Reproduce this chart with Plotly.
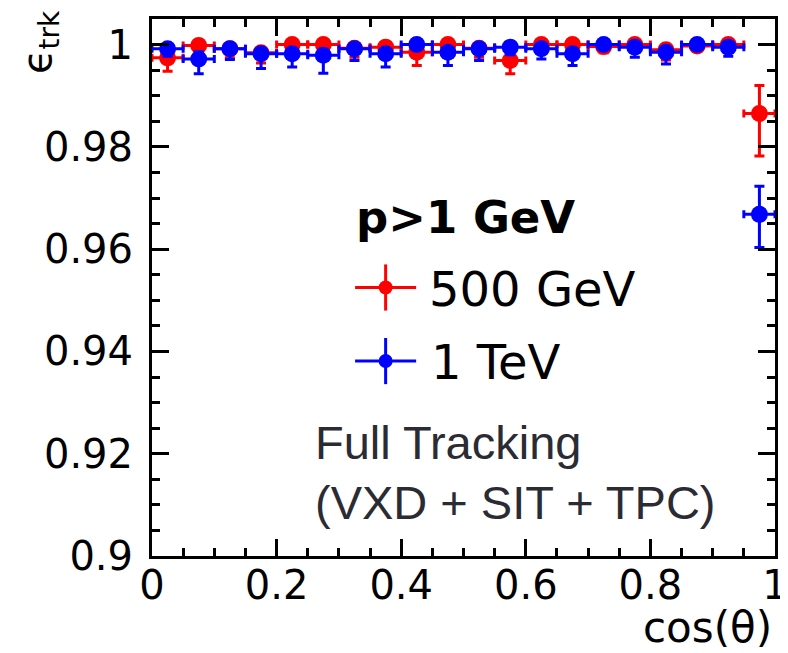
import plotly.graph_objects as go

# ---- data ----
cos_theta = [0.025, 0.075, 0.125, 0.175, 0.225, 0.275, 0.325, 0.375, 0.425, 0.475,
             0.525, 0.575, 0.625, 0.675, 0.725, 0.775, 0.825, 0.875, 0.925, 0.975]
bin_half_width = 0.025

eff_500 = [0.9974, 0.9998, 0.9992, 0.9984, 1.0000, 1.0000, 0.9993, 0.9995, 0.9985, 1.0000,
           0.9993, 0.9969, 1.0000, 1.0000, 0.9996, 1.0000, 0.9990, 0.9997, 1.0000, 0.9865]
err_500_lo = [0.0026, 0.0012, 0.0018, 0.0020, 0.0005, 0.0005, 0.0018, 0.0016, 0.0026, 0.0005,
              0.0018, 0.0026, 0.0005, 0.0005, 0.0012, 0.0005, 0.0020, 0.0010, 0.0005, 0.0083]
err_500_hi = [0.0012, 0.0002, 0.0006, 0.0010, 0.0000, 0.0000, 0.0006, 0.0005, 0.0010, 0.0000,
              0.0006, 0.0012, 0.0000, 0.0000, 0.0004, 0.0000, 0.0008, 0.0003, 0.0000, 0.0055]

eff_1tev = [0.9992, 0.9972, 0.9992, 0.9982, 0.9982, 0.9979, 0.9992, 0.9982, 1.0000, 0.9985,
            0.9992, 0.9995, 0.9992, 0.9982, 1.0000, 0.9995, 0.9985, 1.0000, 0.9995, 0.9668]
err_1tev_lo = [0.0015, 0.0029, 0.0021, 0.0029, 0.0026, 0.0035, 0.0023, 0.0026, 0.0005, 0.0026,
               0.0023, 0.0015, 0.0020, 0.0023, 0.0005, 0.0020, 0.0023, 0.0005, 0.0018, 0.0065]
err_1tev_hi = [0.0006, 0.0014, 0.0006, 0.0010, 0.0010, 0.0012, 0.0006, 0.0010, 0.0000, 0.0010,
               0.0006, 0.0005, 0.0006, 0.0010, 0.0000, 0.0005, 0.0010, 0.0000, 0.0005, 0.0055]

series_names = ["500 GeV", "1 TeV"]
y_ticks = [0.9, 0.92, 0.94, 0.96, 0.98, 1.0]
y_tick_text = ["0.9", "0.92", "0.94", "0.96", "0.98", "1"]
x_ticks = [0, 0.2, 0.4, 0.6, 0.8, 1.0]
x_tick_text = ["0", "0.2", "0.4", "0.6", "0.8", "1"]

RED = "#ff0000"
BLUE = "#0000ff"
ROOT_FONT = "DejaVu Sans"

fig = go.Figure()

for y, lo, hi, col, name in [(eff_500, err_500_lo, err_500_hi, RED, series_names[0]),
                             (eff_1tev, err_1tev_lo, err_1tev_hi, BLUE, series_names[1])]:
    fig.add_trace(go.Scatter(
        x=cos_theta, y=y, mode="markers", name=name, showlegend=False,
        marker=dict(symbol="circle", size=17, color=col),
        error_y=dict(type="data", symmetric=False, array=hi, arrayminus=lo,
                     color=col, thickness=3, width=5),
        error_x=dict(type="constant", value=bin_half_width, color=col,
                     thickness=3, width=4),
        cliponaxis=False,
    ))

# legend keys drawn on a hidden overlay axis (paper-like 0..1 units)
for ky, col in [(0.5, RED), (0.363, BLUE)]:
    fig.add_trace(go.Scatter(
        x=[0.375], y=[ky], mode="markers", xaxis="x2", yaxis="y2", showlegend=False,
        marker=dict(symbol="circle", size=14, color=col),
        error_x=dict(type="constant", value=0.049, color=col, thickness=3, width=0),
        error_y=dict(type="constant", value=0.043, color=col, thickness=3, width=0),
        hoverinfo="skip",
    ))

axis_common = dict(
    showline=True, linecolor="black", linewidth=3, mirror="allticks",
    ticks="inside", ticklen=17, tickwidth=3, tickcolor="black",
    showgrid=False, zeroline=False,
    tickfont=dict(family=ROOT_FONT, size=40, color="black"),
)

fig.update_layout(
    width=788, height=653,
    margin=dict(l=144, r=15, t=8, b=105),
    paper_bgcolor="white", plot_bgcolor="white",
    xaxis=dict(range=[0, 1], tickvals=x_ticks, ticktext=x_tick_text,
               minor=dict(dtick=0.05, ticks="inside", ticklen=8, tickwidth=3, tickcolor="black"),
               ticklabelstandoff=-8, **axis_common),
    yaxis=dict(range=[0.9, 1.005], tickvals=y_ticks, ticktext=y_tick_text,
               minor=dict(dtick=0.005, ticks="inside", ticklen=8, tickwidth=3, tickcolor="black"),
               ticklabelstandoff=8, **axis_common),
    xaxis2=dict(range=[0, 1], overlaying="x", visible=False, fixedrange=True),
    yaxis2=dict(range=[0, 1], overlaying="y", visible=False, fixedrange=True),
    showlegend=False,
)

ann = []
ann.append(dict(text="<b>p>1 GeV</b>", xref="paper", yref="paper", x=0.324, y=0.631,
                xanchor="left", yanchor="middle", showarrow=False,
                font=dict(family=ROOT_FONT, size=45, color="black")))
ann.append(dict(text=series_names[0], xref="paper", yref="paper", x=0.441, y=0.498,
                xanchor="left", yanchor="middle", showarrow=False,
                font=dict(family=ROOT_FONT, size=48, color="black")))
ann.append(dict(text=series_names[1], xref="paper", yref="paper", x=0.444, y=0.361,
                xanchor="left", yanchor="middle", showarrow=False,
                font=dict(family=ROOT_FONT, size=48, color="black")))
ann.append(dict(text="Full Tracking", xref="paper", yref="paper", x=0.259, y=0.211,
                xanchor="left", yanchor="middle", showarrow=False,
                font=dict(family="Liberation Sans", size=47, color="#2b2b33")))
ann.append(dict(text="(VXD + SIT + TPC)", xref="paper", yref="paper", x=0.259, y=0.100,
                xanchor="left", yanchor="middle", showarrow=False,
                font=dict(family="Liberation Sans", size=47, color="#2b2b33")))
ann.append(dict(text="cos(θ)", xref="paper", yref="paper", x=0.998, y=-0.133,
                xanchor="right", yanchor="middle", showarrow=False,
                font=dict(family=ROOT_FONT, size=42, color="black")))
ann.append(dict(text="ϵ<sub>trk</sub>", xref="paper", yref="paper", x=-0.18, y=1.02,
                xanchor="center", yanchor="top", showarrow=False, textangle=-90,
                font=dict(family=ROOT_FONT, size=40, color="black")))
fig.update_layout(annotations=ann)

fig.write_html("out.html")
